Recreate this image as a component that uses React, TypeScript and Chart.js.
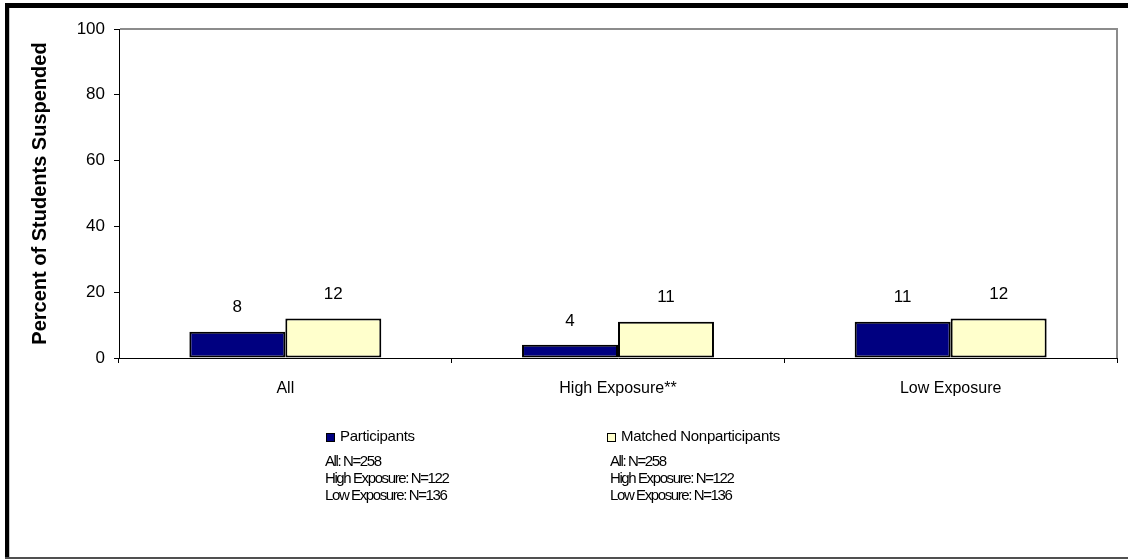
import React, { useEffect, useRef } from "react";
import { Chart, registerables } from "chart.js";

Chart.register(...registerables);

const categories = ["All", "High Exposure**", "Low Exposure"];
const participants = [8, 4, 11];
const nonparticipants = [12, 11, 12];
const yTicks = [0, 20, 40, 60, 80, 100];
const seriesNames = ["Participants", "Matched Nonparticipants"];
const sampleNotes = ["All: N=258", "High Exposure: N=122", "Low Exposure: N=136"];
const yTitle = "Percent of Students Suspended";

const FONT = "'Liberation Sans', Arial, sans-serif";

const decorPlugin = {
  id: "decor",
  beforeDraw(chart: any) {
    const ctx = chart.ctx;
    ctx.save();
    ctx.fillStyle = "#ffffff";
    ctx.fillRect(0, 0, chart.width, chart.height);
    ctx.restore();
  },
  afterDraw(chart: any) {
    const ctx = chart.ctx;
    const ca = chart.chartArea;
    ctx.save();
    // plot area border (top and right)
    ctx.strokeStyle = "#8c8c8c";
    ctx.lineWidth = 2;
    ctx.beginPath();
    ctx.moveTo(ca.left + 1, ca.top);
    ctx.lineTo(ca.right, ca.top);
    ctx.lineTo(ca.right, ca.bottom);
    ctx.stroke();

    // outer frame
    ctx.fillStyle = "#000000";
    ctx.fillRect(5, 3, chart.width - 5, 5);
    ctx.fillRect(5, 3, 4, chart.height - 5);
    ctx.fillStyle = "#c8c8c8";
    ctx.fillRect(9, 8, 1, chart.height - 10);
    ctx.fillStyle = "#505050";
    ctx.fillRect(5, chart.height - 2, chart.width - 5, 2);

    // data labels
    ctx.fillStyle = "#000";
    ctx.font = `17px ${FONT}`;
    ctx.textAlign = "center";
    ctx.textBaseline = "middle";
    chart.data.datasets.forEach((ds: any, i: number) => {
      const meta = chart.getDatasetMeta(i);
      meta.data.forEach((el: any, j: number) => {
        ctx.fillText(String(ds.data[j]), el.x, el.y - 24);
      });
    });

    // legend
    const legendX = [326, 607];
    const legendY = 437;
    chart.data.datasets.forEach((ds: any, i: number) => {
      const x = legendX[i];
      ctx.fillStyle = ds.backgroundColor;
      ctx.fillRect(x, legendY - 4, 9, 9);
      ctx.strokeStyle = "#000";
      ctx.lineWidth = 1;
      ctx.strokeRect(x + 0.5, legendY - 3.5, 8, 8);
      ctx.fillStyle = "#000";
      ctx.textAlign = "left";
      ctx.textBaseline = "middle";
      ctx.font = `15px ${FONT}`;
      (ctx as any).letterSpacing = "-0.3px";
      ctx.fillText(seriesNames[i], x + 14, legendY);
      ctx.font = `15px ${FONT}`;
      (ctx as any).letterSpacing = "-1.4px";
      sampleNotes.forEach((t, k) => {
        ctx.fillText(t, x - 1 + (i === 1 ? 4 : 0), 462 + k * 17);
      });
      (ctx as any).letterSpacing = "0px";
    });
    ctx.restore();
  },
};

export default function App() {
  const ref = useRef<HTMLCanvasElement>(null);
  useEffect(() => {
    if (!ref.current) return;
    const chart = new Chart(ref.current, {
      type: "bar",
      data: {
        labels: categories,
        datasets: [
          {
            label: seriesNames[0],
            data: participants,
            backgroundColor: "#000080",
            borderColor: "#000000",
            borderWidth: 2,
            borderSkipped: false,
            categoryPercentage: 0.577,
            barPercentage: 1.0,
          },
          {
            label: seriesNames[1],
            data: nonparticipants,
            backgroundColor: "#FFFFCC",
            borderColor: "#000000",
            borderWidth: 2,
            borderSkipped: false,
            categoryPercentage: 0.577,
            barPercentage: 1.0,
          },
        ],
      },
      options: {
        responsive: false,
        animation: false,
        layout: { padding: { top: 29, right: 11, left: 0, bottom: 161 } },
        plugins: { legend: { display: false }, tooltip: { enabled: false } },
        scales: {
          x: {
            grid: { offset: true, drawOnChartArea: false, drawTicks: true, tickLength: 5, color: "#000" },
            border: { color: "#000", width: 1 },
            ticks: { color: "#000", font: { family: FONT, size: 16 }, padding: 16, maxRotation: 0, autoSkip: false },
            afterFit: (s: any) => {
              s.height = 40;
            },
          },
          y: {
            min: 0,
            max: 100,
            afterBuildTicks: (s: any) => {
              s.ticks = yTicks.map((v) => ({ value: v }));
            },
            ticks: { color: "#000", font: { family: FONT, size: 17 }, padding: 9 },
            grid: { drawOnChartArea: false, drawTicks: true, tickLength: 5, color: "#000" },
            border: { color: "#000", width: 1 },
            title: {
              display: true,
              text: yTitle,
              color: "#000",
              font: { family: FONT, size: 20, weight: "bold" },
              padding: { top: 28, bottom: 0 },
            },
            afterFit: (s: any) => {
              s.width = 119;
            },
          },
        },
      } as any,
      plugins: [decorPlugin],
    });
    return () => chart.destroy();
  }, []);
  return (
    <div style={{ position: "absolute", left: 0, top: 0, width: 1128, height: 559 }}>
      <canvas ref={ref} width={1128} height={559} style={{ display: "block" }} />
    </div>
  );
}
